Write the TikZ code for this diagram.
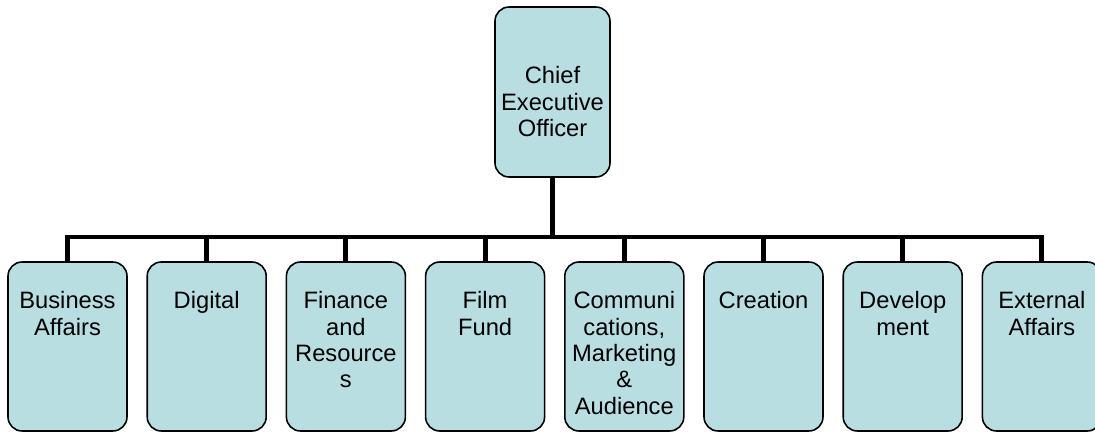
\documentclass[tikz,border=0pt]{standalone}
\usepackage{fontspec}
\setmainfont{Liberation Sans}
\usetikzlibrary{positioning}
\definecolor{boxblue}{RGB}{185,222,226}
\tikzset{
  unit/.style={draw=black, line width=0.9pt, fill=boxblue, rounded corners=8pt, minimum width=2.38cm, minimum height=3.38cm, inner sep=0pt},
  unittext/.style={anchor=north, align=center, inner sep=0pt, font=\fontsize{13.5}{15}\selectfont},
  bar/.style={line width=2.8pt}
}

\begin{document}
\begin{tikzpicture}[x=0.02cm, y=-0.02cm]
  \useasboundingbox (0,0) rectangle (1095,432);
  \coordinate (hub) at (552.5,237);
  \node[unit, minimum width=2.3cm, minimum height=3.4cm] (ceo) at (552.5,92) {};
  \node[unittext] (ceo-txt) at ([yshift=-1.2cm]ceo.north) {Chief\\Executive\\Officer};
  \draw[bar] (ceo.south) -- (hub);
  \foreach \tag/\txt [count=\i from 0] in {biz/{Business\\Affairs}, digital/Digital, finance/{Finance\\and\\Resource\\s}, film/{Film\\Fund}, comms/{Communi\\cations,\\Marketing\\\&\\Audience}, creation/Creation, devel/{Develop\\ment}, ext/{External\\Affairs}}{
    \node[unit] (\tag) at ({67.5+139.2*\i},346.5) {};
    \node[unittext] (\tag-txt) at ([yshift=-0.6cm]\tag.north) {\txt};
    \draw[bar] (\tag.north) |- (hub);
  }
\end{tikzpicture}
\end{document}
